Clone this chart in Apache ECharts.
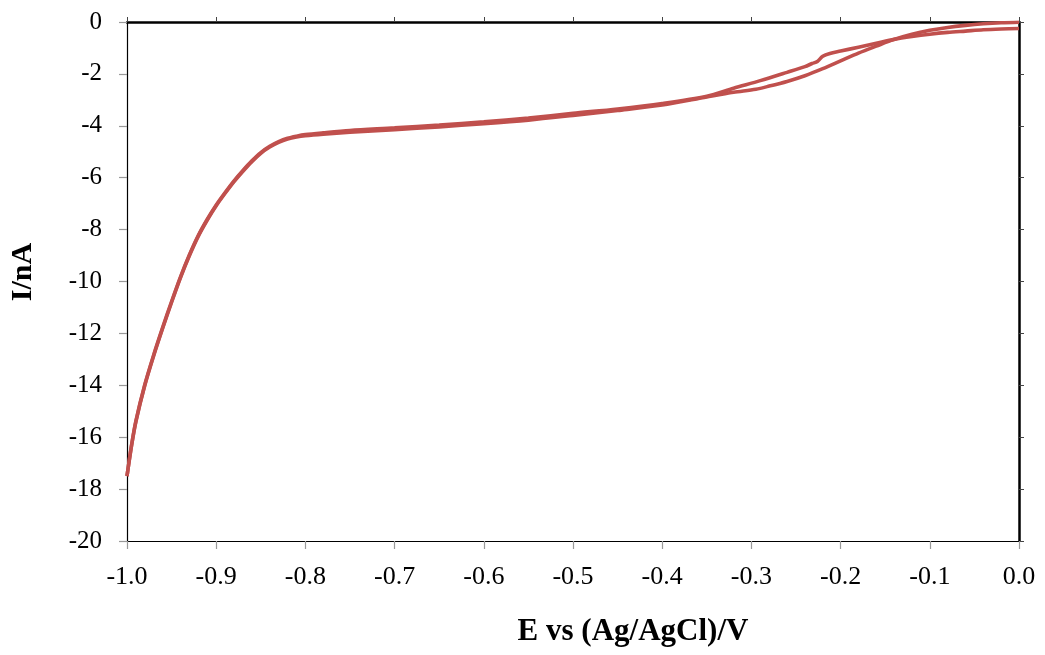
<!DOCTYPE html>
<html>
<head>
<meta charset="utf-8">
<script src="https://cdn.jsdelivr.net/npm/echarts@6/dist/echarts.min.js"></script>
<style>
  html, body { margin: 0; padding: 0; background: #ffffff; }
  #chart { width: 1045px; height: 655px; }
</style>
</head>
<body>
<div id="chart"></div>
<script>
// Cyclic voltammogram: potential (V vs Ag/AgCl) and current (nA)
const forwardE = [-1.0, -0.995, -0.99, -0.98, -0.97, -0.96, -0.95, -0.94, -0.93, -0.92, -0.91, -0.90,
  -0.89, -0.88, -0.87, -0.86, -0.85, -0.84, -0.83, -0.82, -0.81, -0.80, -0.78, -0.75, -0.70, -0.65,
  -0.60, -0.55, -0.50, -0.45, -0.40, -0.35, -0.32, -0.295, -0.28, -0.26, -0.24, -0.22, -0.20, -0.18,
  -0.16, -0.14, -0.12, -0.10, -0.08, -0.06, -0.04, -0.02, 0.0];
const forwardI = [-17.5, -16.35, -15.4, -14.0, -12.85, -11.8, -10.8, -9.85, -9.0, -8.25, -7.63, -7.08,
  -6.6, -6.15, -5.75, -5.38, -5.06, -4.82, -4.64, -4.51, -4.43, -4.38, -4.32, -4.25, -4.15, -4.04,
  -3.92, -3.78, -3.6, -3.41, -3.2, -2.89, -2.71, -2.59, -2.47, -2.29, -2.07, -1.80, -1.50, -1.20,
  -0.93, -0.67, -0.47, -0.32, -0.21, -0.13, -0.07, -0.03, -0.01];

const reverseE = [0.0, -0.02, -0.04, -0.06, -0.08, -0.10, -0.12, -0.14, -0.16, -0.18, -0.20, -0.212,
  -0.220, -0.226, -0.232, -0.24, -0.26, -0.29, -0.32, -0.35, -0.40, -0.45, -0.50, -0.55, -0.60,
  -0.65, -0.70, -0.75, -0.78, -0.80, -0.81, -0.82, -0.83, -0.84, -0.85, -0.86, -0.87, -0.88, -0.89,
  -0.90, -0.91, -0.92, -0.93, -0.94, -0.95, -0.96, -0.97, -0.98, -0.99, -0.995, -1.0];
const reverseI = [-0.25, -0.27, -0.30, -0.35, -0.40, -0.47, -0.56, -0.67, -0.82, -0.97, -1.12, -1.21,
  -1.32, -1.52, -1.60, -1.72, -1.94, -2.26, -2.55, -2.86, -3.14, -3.35, -3.52, -3.70, -3.85,
  -3.97, -4.08, -4.18, -4.27, -4.34, -4.40, -4.48, -4.61, -4.79, -5.03, -5.35, -5.72, -6.12, -6.57,
  -7.05, -7.6, -8.22, -8.97, -9.82, -10.77, -11.77, -12.82, -13.97, -15.37, -16.33, -17.5];

const xTicks = { min: -1.0, max: 0.0, step: 0.1 };
const yTicks = { min: -20, max: 0, step: 2 };
const xTitle = 'E vs (Ag/AgCl)/V';
const yTitle = 'I/nA';

function pairs(xs, ys) { return xs.map((x, i) => [x, ys[i]]); }

const font = '"Liberation Serif", "Times New Roman", serif';
const lineColor = '#C0504D';

const chart = echarts.init(document.getElementById('chart'), null, { renderer: 'canvas' });

const lineSeries = (data) => ({
  type: 'line',
  data: data,
  xAxisIndex: 0,
  yAxisIndex: 0,
  showSymbol: false,
  smooth: 0.3,
  lineStyle: { color: lineColor, width: 3.6 },
  z: 2
});

chart.setOption({
  backgroundColor: '#ffffff',
  animation: false,
  grid: { left: 127, right: 26, top: 22, bottom: 114, containLabel: false },
  // axis titles sit slightly off the plot centre
  graphic: [
    {
      type: 'text', x: 633, y: 632,
      style: {
        text: xTitle, fontFamily: font, fontSize: 31, fontWeight: 'bold',
        fill: '#000', align: 'center', verticalAlign: 'middle'
      }
    },
    {
      type: 'text', x: 23, y: 272, rotation: Math.PI / 2,
      style: {
        text: yTitle, fontFamily: font, fontSize: 30, fontWeight: 'bold',
        fill: '#000', align: 'center', verticalAlign: 'middle'
      }
    }
  ],
  xAxis: [
    {
      type: 'value',
      position: 'bottom',
      min: xTicks.min, max: xTicks.max, interval: xTicks.step,
      axisLine: { onZero: false, lineStyle: { color: '#000', width: 1.2 } },
      axisTick: { inside: false, length: 8, lineStyle: { color: '#999', width: 1.2 } },
      axisLabel: {
        margin: 23, fontFamily: font, fontSize: 26, color: '#000',
        formatter: v => v.toFixed(1)
      },
      splitLine: { show: false }
    },
    {
      type: 'value',
      position: 'top',
      min: xTicks.min, max: xTicks.max, interval: xTicks.step,
      axisLine: { onZero: false, lineStyle: { color: '#000', width: 2.5 } },
      axisTick: { inside: false, length: 5, lineStyle: { color: '#444', width: 1 } },
      axisLabel: { show: false },
      splitLine: { show: false }
    }
  ],
  yAxis: [
    {
      type: 'value',
      position: 'left',
      min: yTicks.min, max: yTicks.max, interval: yTicks.step,
      axisLine: { onZero: false, lineStyle: { color: '#000', width: 1.2 } },
      axisTick: { inside: false, length: 8, lineStyle: { color: '#999', width: 1.2 } },
      axisLabel: { margin: 25, fontFamily: font, fontSize: 25, color: '#000' },
      splitLine: { show: false }
    },
    {
      type: 'value',
      position: 'right',
      min: yTicks.min, max: yTicks.max, interval: yTicks.step,
      axisLine: { onZero: false, lineStyle: { color: '#000', width: 2.5 } },
      axisTick: { inside: false, length: 5, lineStyle: { color: '#444', width: 1 } },
      axisLabel: { show: false },
      splitLine: { show: false }
    }
  ],
  series: [
    lineSeries(pairs(forwardE, forwardI)),
    lineSeries(pairs(reverseE, reverseI))
  ]
});
</script>
</body>
</html>
